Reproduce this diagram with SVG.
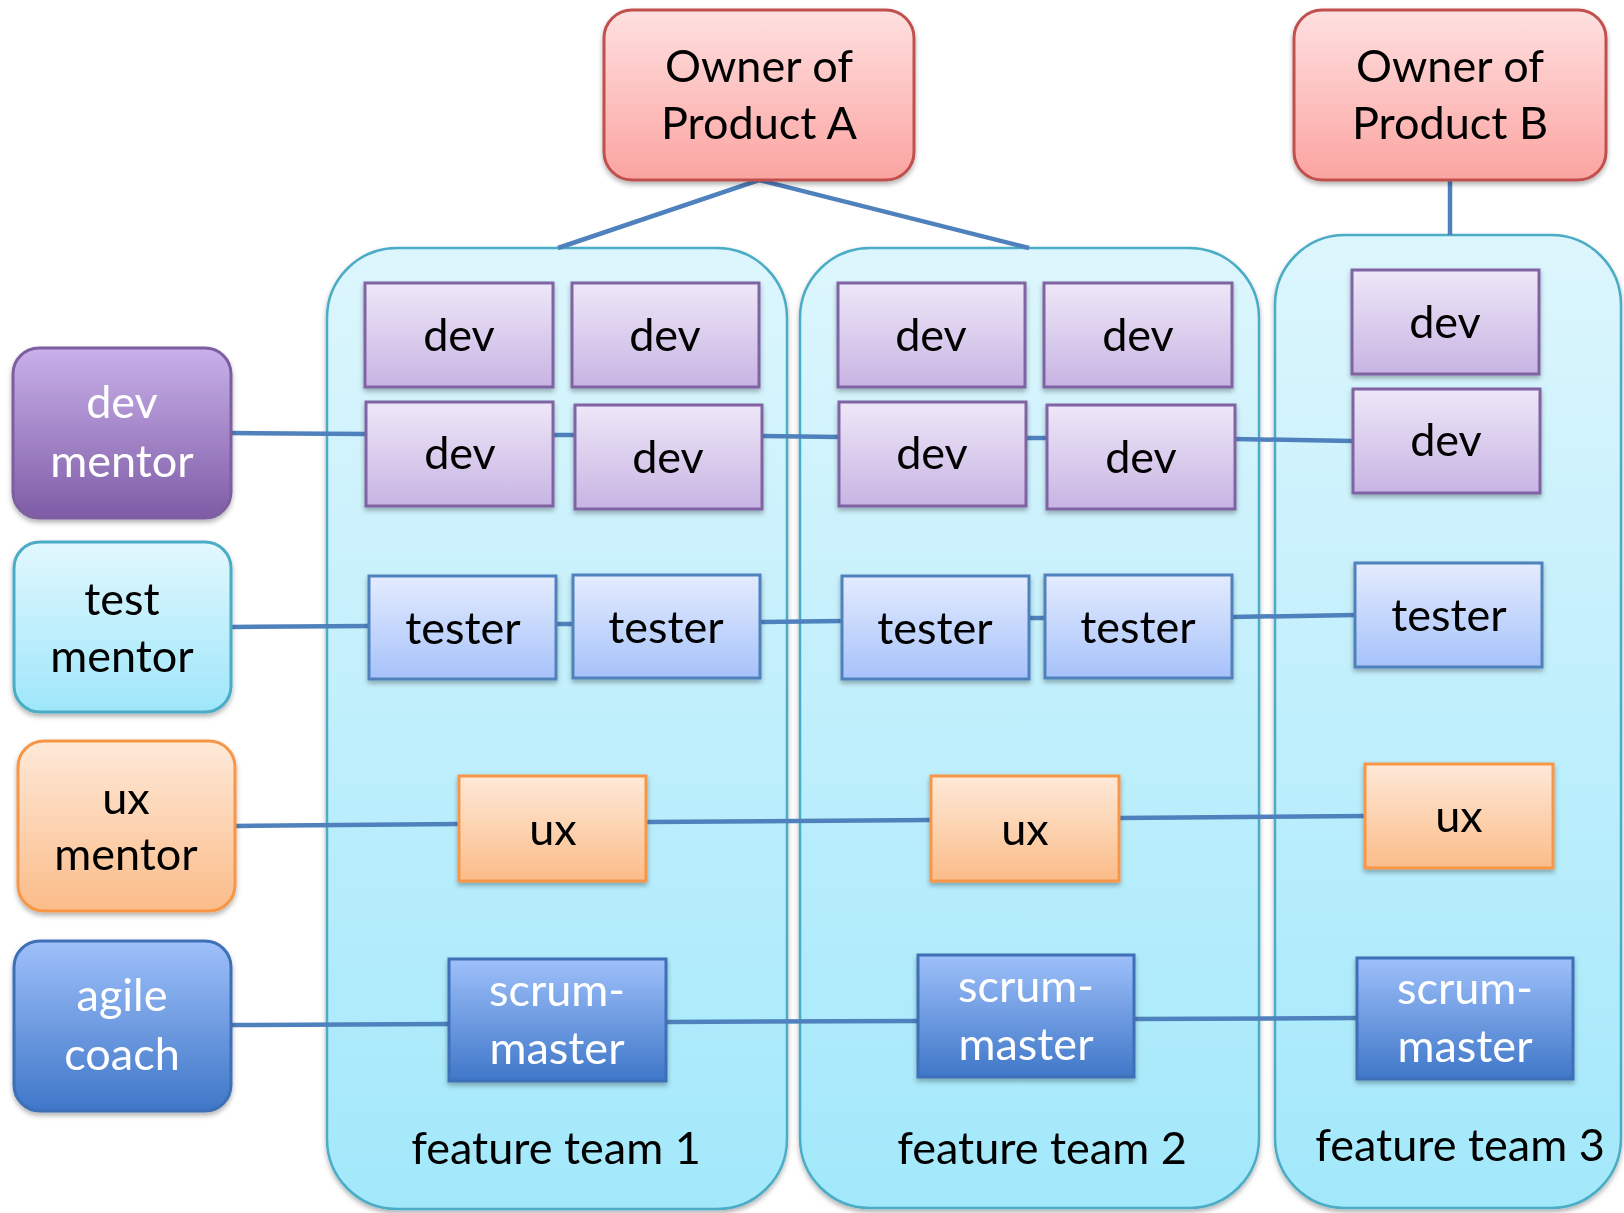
<svg xmlns="http://www.w3.org/2000/svg" width="1624" height="1213" viewBox="0 0 1624 1213">
<defs>
<linearGradient id="gOwner" x1="0" y1="0" x2="0" y2="1"><stop offset="0" stop-color="#fee0e0"/><stop offset="1" stop-color="#fba4a1"/></linearGradient>
<linearGradient id="gTeam" x1="0" y1="0" x2="0" y2="1"><stop offset="0" stop-color="#ddf6fd"/><stop offset="1" stop-color="#a2e8fb"/></linearGradient>
<linearGradient id="gDev" x1="0" y1="0" x2="0" y2="1"><stop offset="0" stop-color="#eee7f8"/><stop offset="1" stop-color="#c8b4e3"/></linearGradient>
<linearGradient id="gDevM" x1="0" y1="0" x2="0" y2="1"><stop offset="0" stop-color="#c9b1ea"/><stop offset="1" stop-color="#7e5ca6"/></linearGradient>
<linearGradient id="gTest" x1="0" y1="0" x2="0" y2="1"><stop offset="0" stop-color="#e4ecfe"/><stop offset="1" stop-color="#a6c2fa"/></linearGradient>
<linearGradient id="gTestM" x1="0" y1="0" x2="0" y2="1"><stop offset="0" stop-color="#e2f8fe"/><stop offset="1" stop-color="#9ee6fa"/></linearGradient>
<linearGradient id="gUx" x1="0" y1="0" x2="0" y2="1"><stop offset="0" stop-color="#fee9d8"/><stop offset="1" stop-color="#fbbc89"/></linearGradient>
<linearGradient id="gBlue" x1="0" y1="0" x2="0" y2="1"><stop offset="0" stop-color="#9ec0fa"/><stop offset="1" stop-color="#3f77c8"/></linearGradient>
<filter id="sh" x="-10%" y="-10%" width="120%" height="130%"><feDropShadow dx="0" dy="3" stdDeviation="2.5" flood-color="#000" flood-opacity="0.3"/></filter>
</defs>
<style>
text{font-family:Lato,"Open Sans","Liberation Sans",sans-serif;font-size:45px;text-anchor:middle;fill:#000}
.w{fill:#fff}
.owner{fill:url(#gOwner);stroke:#c0504d;stroke-width:3}
.team{fill:url(#gTeam);stroke:#4bacc6;stroke-width:2.5}
.dev{fill:url(#gDev);stroke:#8064a2;stroke-width:3}
.devm{fill:url(#gDevM);stroke:#7d5fa0;stroke-width:3}
.test{fill:url(#gTest);stroke:#4f81bd;stroke-width:3}
.testm{fill:url(#gTestM);stroke:#4bacc6;stroke-width:3}
.ux{fill:url(#gUx);stroke:#f79646;stroke-width:3}
.blue{fill:url(#gBlue);stroke:#3d6fb6;stroke-width:3}
.c{stroke:#4f81bd;stroke-width:4.5;fill:none}
</style>
<rect width="1624" height="1213" fill="#fff"/>

<g id="team1" filter="url(#sh)"><rect class="team" x="327" y="248" width="460" height="961" rx="70"/><text x="556" y="1164">feature team 1</text></g>
<g id="team2" filter="url(#sh)"><rect class="team" x="800" y="248" width="459" height="960" rx="70"/><text x="1042" y="1164">feature team 2</text></g>
<g id="team3" filter="url(#sh)"><rect class="team" x="1275" y="235" width="346" height="973" rx="70"/><text x="1460" y="1161">feature team 3</text></g>

<g id="connectors">
<polyline class="c" points="558,248 759,180 1029,248"/>
<line class="c" x1="1450" y1="180" x2="1450" y2="235"/>
<line class="c" x1="231" y1="433" x2="366" y2="434"/>
<line class="c" x1="553" y1="435" x2="575" y2="435"/>
<line class="c" x1="762" y1="436" x2="839" y2="437"/>
<line class="c" x1="1026" y1="438" x2="1047" y2="438"/>
<line class="c" x1="1235" y1="439" x2="1353" y2="441"/>
<line class="c" x1="231" y1="627" x2="369" y2="626"/>
<line class="c" x1="556" y1="624" x2="573" y2="624"/>
<line class="c" x1="760" y1="622" x2="842" y2="621"/>
<line class="c" x1="1029" y1="618" x2="1045" y2="618"/>
<line class="c" x1="1232" y1="617" x2="1355" y2="615"/>
<line class="c" x1="235" y1="826" x2="459" y2="824"/>
<line class="c" x1="646" y1="822" x2="931" y2="820"/>
<line class="c" x1="1119" y1="818" x2="1365" y2="816"/>
<line class="c" x1="231" y1="1025" x2="449" y2="1024"/>
<line class="c" x1="666" y1="1022" x2="918" y2="1021"/>
<line class="c" x1="1134" y1="1019" x2="1357" y2="1018"/>
</g>

<g id="ownerA" filter="url(#sh)"><rect class="owner" x="604" y="10" width="310" height="170" rx="28"/><text x="759" y="82">Owner of</text><text x="759" y="139">Product A</text></g>
<g id="ownerB" filter="url(#sh)"><rect class="owner" x="1294" y="10" width="312" height="170" rx="28"/><text x="1450" y="82">Owner of</text><text x="1450" y="139">Product B</text></g>

<g id="devMentor" filter="url(#sh)"><rect class="devm" x="13" y="348" width="218" height="170" rx="26"/><text class="w" x="122" y="418">dev</text><text class="w" x="122" y="477">mentor</text></g>
<g id="testMentor" filter="url(#sh)"><rect class="testm" x="14" y="542" width="217" height="170" rx="26"/><text x="122" y="615">test</text><text x="122" y="672">mentor</text></g>
<g id="uxMentor" filter="url(#sh)"><rect class="ux" x="18" y="741" width="217" height="170" rx="26"/><text x="126" y="814">ux</text><text x="126" y="870">mentor</text></g>
<g id="agileCoach" filter="url(#sh)"><rect class="blue" x="14" y="941" width="217" height="170" rx="26"/><text class="w" x="122" y="1011">agile</text><text class="w" x="122" y="1070">coach</text></g>

<g id="t1dev1" filter="url(#sh)"><rect class="dev" x="365" y="283" width="188" height="104"/><text x="459" y="351">dev</text></g>
<g id="t1dev2" filter="url(#sh)"><rect class="dev" x="572" y="283" width="187" height="104"/><text x="665" y="351">dev</text></g>
<g id="t1dev3" filter="url(#sh)"><rect class="dev" x="366" y="402" width="187" height="104"/><text x="460" y="469">dev</text></g>
<g id="t1dev4" filter="url(#sh)"><rect class="dev" x="575" y="405" width="187" height="104"/><text x="668" y="473">dev</text></g>
<g id="t2dev1" filter="url(#sh)"><rect class="dev" x="838" y="283" width="187" height="104"/><text x="931" y="351">dev</text></g>
<g id="t2dev2" filter="url(#sh)"><rect class="dev" x="1044" y="283" width="188" height="104"/><text x="1138" y="351">dev</text></g>
<g id="t2dev3" filter="url(#sh)"><rect class="dev" x="839" y="402" width="187" height="104"/><text x="932" y="469">dev</text></g>
<g id="t2dev4" filter="url(#sh)"><rect class="dev" x="1047" y="405" width="188" height="104"/><text x="1141" y="473">dev</text></g>
<g id="t3dev1" filter="url(#sh)"><rect class="dev" x="1352" y="270" width="187" height="104"/><text x="1445" y="338">dev</text></g>
<g id="t3dev2" filter="url(#sh)"><rect class="dev" x="1353" y="389" width="187" height="104"/><text x="1446" y="456">dev</text></g>

<g id="t1test1" filter="url(#sh)"><rect class="test" x="369" y="576" width="187" height="103"/><text x="463" y="644">tester</text></g>
<g id="t1test2" filter="url(#sh)"><rect class="test" x="573" y="575" width="187" height="103"/><text x="666" y="643">tester</text></g>
<g id="t2test1" filter="url(#sh)"><rect class="test" x="842" y="576" width="187" height="103"/><text x="935" y="644">tester</text></g>
<g id="t2test2" filter="url(#sh)"><rect class="test" x="1045" y="575" width="187" height="103"/><text x="1138" y="643">tester</text></g>
<g id="t3test1" filter="url(#sh)"><rect class="test" x="1355" y="563" width="187" height="104"/><text x="1449" y="631">tester</text></g>

<g id="t1ux" filter="url(#sh)"><rect class="ux" x="459" y="776" width="187" height="105"/><text x="553" y="845">ux</text></g>
<g id="t2ux" filter="url(#sh)"><rect class="ux" x="931" y="776" width="188" height="105"/><text x="1025" y="845">ux</text></g>
<g id="t3ux" filter="url(#sh)"><rect class="ux" x="1365" y="764" width="188" height="104"/><text x="1459" y="832">ux</text></g>

<g id="t1sm" filter="url(#sh)"><rect class="blue" x="449" y="959" width="217" height="122"/><text class="w" x="557" y="1006">scrum-</text><text class="w" x="557" y="1064">master</text></g>
<g id="t2sm" filter="url(#sh)"><rect class="blue" x="918" y="955" width="216" height="122"/><text class="w" x="1026" y="1002">scrum-</text><text class="w" x="1026" y="1060">master</text></g>
<g id="t3sm" filter="url(#sh)"><rect class="blue" x="1357" y="958" width="216" height="121"/><text class="w" x="1465" y="1004">scrum-</text><text class="w" x="1465" y="1062">master</text></g>
</svg>
